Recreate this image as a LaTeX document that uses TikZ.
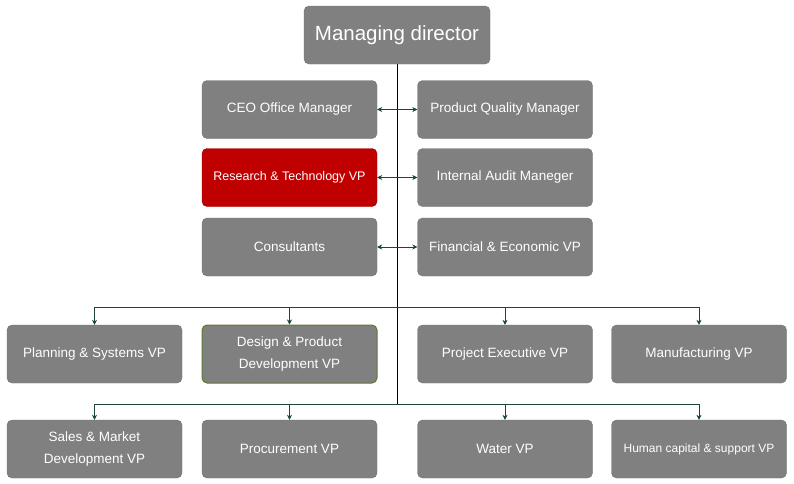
\documentclass[tikz,border=0pt]{standalone}
\usepackage{fontspec}
\setmainfont{Liberation Sans}
\usetikzlibrary{arrows.meta}
\definecolor{boxgray}{HTML}{808080}
\definecolor{boxred}{HTML}{C00000}
\definecolor{linegreen}{HTML}{1E4436}
\definecolor{rimgreen}{HTML}{5A7A2E}
\begin{document}
\begin{tikzpicture}[x=1pt,y=-1pt,
	unit/.style={fill=boxgray, draw=boxgray!90!black, rounded corners=5pt, minimum width=175pt, minimum height=58pt, inner sep=2pt, text=white, font=\fontsize{13.5}{22}\selectfont, align=center},
	arr/.style={-{Stealth[length=5pt,width=5pt]}, draw=linegreen, line width=0.7pt},
	twoway/.style={{Stealth[length=5pt,width=5pt]}-{Stealth[length=5pt,width=5pt]}, draw=linegreen, line width=0.7pt}]
	\useasboundingbox (0,0) rectangle (794,483);
			\node[unit, minimum width=186pt, font=\fontsize{20.5}{24}\selectfont] (md) at (397,35) {Managing director};
			\node[unit] (ceo) at (289.5,109.5) {CEO Office Manager};
			\node[unit] (pqm) at (505,109.5) {Product Quality Manager};
			\node[unit, fill=boxred, draw=boxred!80!black, font=\fontsize{12.5}{15}\selectfont] (rtv) at (289.5,177.5) {Research \& Technology VP};
			\node[unit] (iam) at (505,177.5) {Internal Audit Maneger};
			\node[unit] (cons) at (289.5,247) {Consultants};
			\node[unit] (fev) at (505,247) {Financial \& Economic VP};
			\node[unit] (psv) at (94.5,354) {Planning \& Systems VP};
			\node[unit, draw=rimgreen, line width=1pt] (dpv) at (289.5,354) {Design \& Product\\Development VP};
			\node[unit] (pev) at (505,354) {Project Executive VP};
			\node[unit] (mfv) at (699,354) {Manufacturing VP};
			\node[unit] (smv) at (94.5,449) {Sales \& Market\\Development VP};
			\node[unit] (prv) at (289.5,449) {Procurement VP};
			\node[unit] (wav) at (505,449) {Water VP};
			\node[unit, font=\fontsize{12}{14}\selectfont] (hcv) at (699,449) {Human capital \& support VP};
			\coordinate (t1) at (397,307);
			\coordinate (t2) at (397,404);
			\draw[line width=0.8pt] (md.south) -- (t2);
			\draw[twoway] (ceo.east) -- (pqm.west);
			\draw[twoway] (rtv.east) -- (iam.west);
			\draw[twoway] (cons.east) -- (fev.west);
			\draw[arr] (t1) -| (psv.north);
			\draw[arr] (t1) -| (dpv.north);
			\draw[arr] (t1) -| (pev.north);
			\draw[arr] (t1) -| (mfv.north);
			\draw[arr] (t2) -| (smv.north);
			\draw[arr] (t2) -| (prv.north);
			\draw[arr] (t2) -| (wav.north);
			\draw[arr] (t2) -| (hcv.north);
\end{tikzpicture}
\end{document}
